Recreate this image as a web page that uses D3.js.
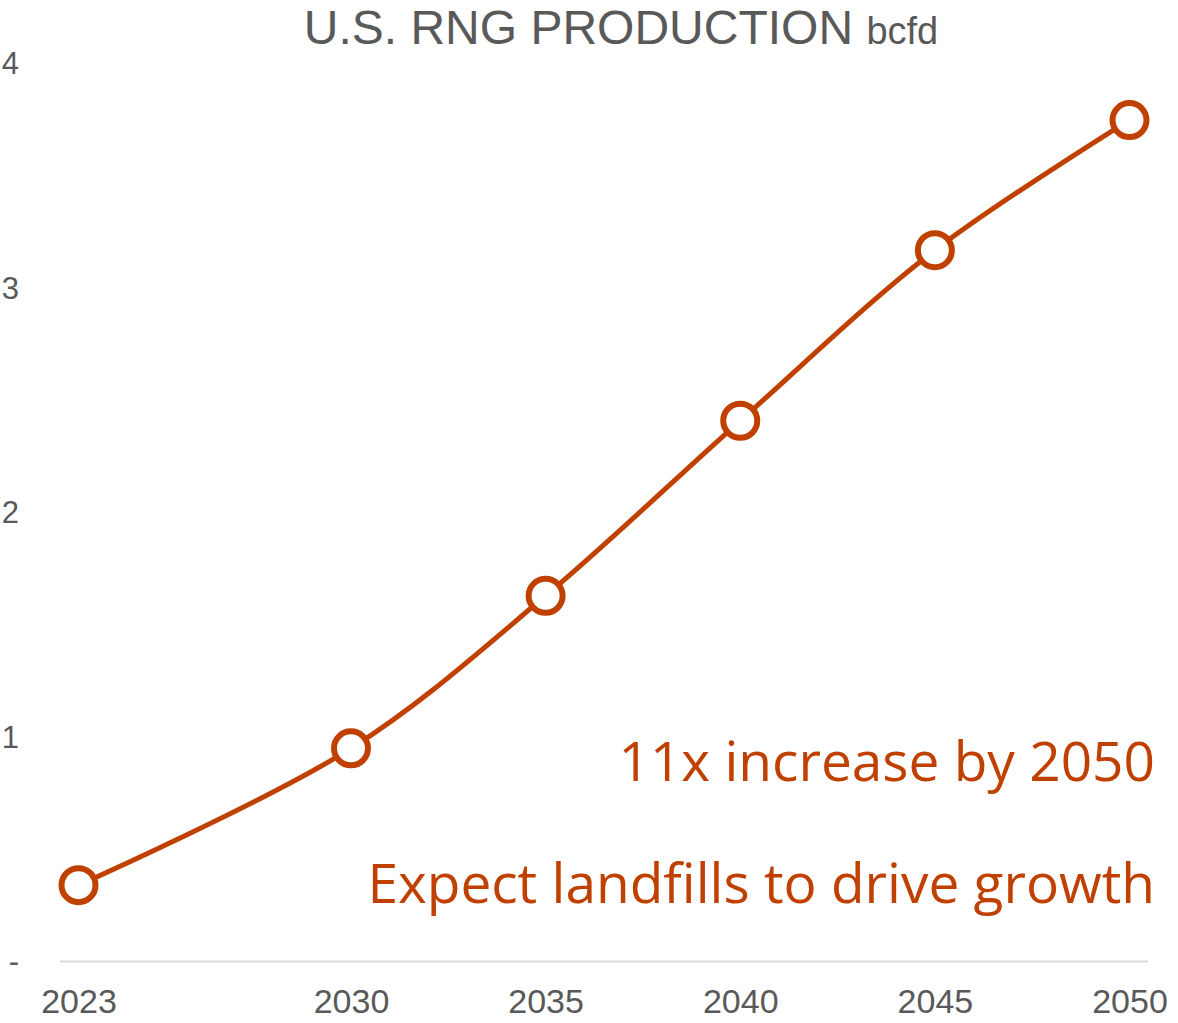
<!DOCTYPE html>
<html>
<head>
<meta charset="utf-8">
<script src="https://cdn.jsdelivr.net/npm/d3@7"></script>
<style>
  html, body { margin: 0; padding: 0; background: #fff; }
  svg { display: block; }
</style>
</head>
<body>
<svg id="chart" width="1178" height="1023"></svg>
<script>
// U.S. renewable natural gas production outlook, bcfd
const years = [2023, 2030, 2035, 2040, 2045, 2050];
const production = [0.34, 0.95, 1.63, 2.41, 3.17, 3.75];
const yTicks = [0, 1, 2, 3, 4];
const yTickLabels = ["-", "1", "2", "3", "4"];
const notes = ["11x increase by 2050", "Expect landfills to drive growth"];

const accent = "#C04000";
const grey = "#595959";

const svg = d3.select("#chart");

const x = d3.scaleLinear().domain([2023, 2050]).range([78.5, 1129.5]);
const y = d3.scaleLinear().domain([0, 4]).range([961.5, 64]);

// Title
const title = svg.append("text")
  .attr("x", 621).attr("y", 44)
  .attr("text-anchor", "middle")
  .attr("fill", grey)
  .style("font-family", "'Liberation Sans', Arial, sans-serif");
title.append("tspan").style("font-size", "48px").text("U.S. RNG PRODUCTION ");
title.append("tspan").style("font-size", "38px").text("bcfd");

// Baseline
svg.append("line")
  .attr("x1", 60).attr("x2", 1148)
  .attr("y1", y(0)).attr("y2", y(0))
  .attr("stroke", "#d9d9d9").attr("stroke-width", 2);

// Y axis labels (no axis line)
const yAxis = d3.axisLeft(y).tickValues(yTicks)
  .tickFormat((d, i) => yTickLabels[i]).tickSize(0).tickPadding(0);
const gy = svg.append("g").attr("transform", "translate(19,0)").call(yAxis);
gy.select(".domain").remove();
gy.selectAll("text")
  .attr("fill", grey)
  .style("font-family", "'Liberation Sans', Arial, sans-serif")
  .style("font-size", "31px");

// X axis labels
const xAxis = d3.axisBottom(x).tickValues(years)
  .tickFormat(d3.format("d")).tickSize(0).tickPadding(0);
const gx = svg.append("g").attr("transform", "translate(0,989)").call(xAxis);
gx.select(".domain").remove();
gx.selectAll("text")
  .attr("fill", grey)
  .style("font-family", "'Liberation Sans', Arial, sans-serif")
  .style("font-size", "34px");

// Smoothed production line
const data = years.map((yr, i) => ({ yr, v: production[i] }));
const line = d3.line()
  .x(d => x(d.yr)).y(d => y(d.v))
  .curve(d3.curveCatmullRom.alpha(0.5));

svg.append("path")
  .datum(data)
  .attr("d", line)
  .attr("fill", "none")
  .attr("stroke", accent)
  .attr("stroke-width", 5)
  .attr("stroke-linejoin", "round");

// Hollow markers
svg.selectAll("circle.pt")
  .data(data)
  .join("circle")
  .attr("class", "pt")
  .attr("cx", d => x(d.yr))
  .attr("cy", d => y(d.v))
  .attr("r", 17)
  .attr("fill", "#fff")
  .attr("stroke", accent)
  .attr("stroke-width", 6);

// Annotations
svg.selectAll("text.note")
  .data(notes)
  .join("text")
  .attr("class", "note")
  .attr("x", 1155)
  .attr("y", (d, i) => 781 + i * 122)
  .attr("text-anchor", "end")
  .attr("fill", accent)
  .style("font-family", "'Open Sans', 'Noto Sans', sans-serif")
  .style("font-size", "55px")
  .text(d => d);
</script>
</body>
</html>
